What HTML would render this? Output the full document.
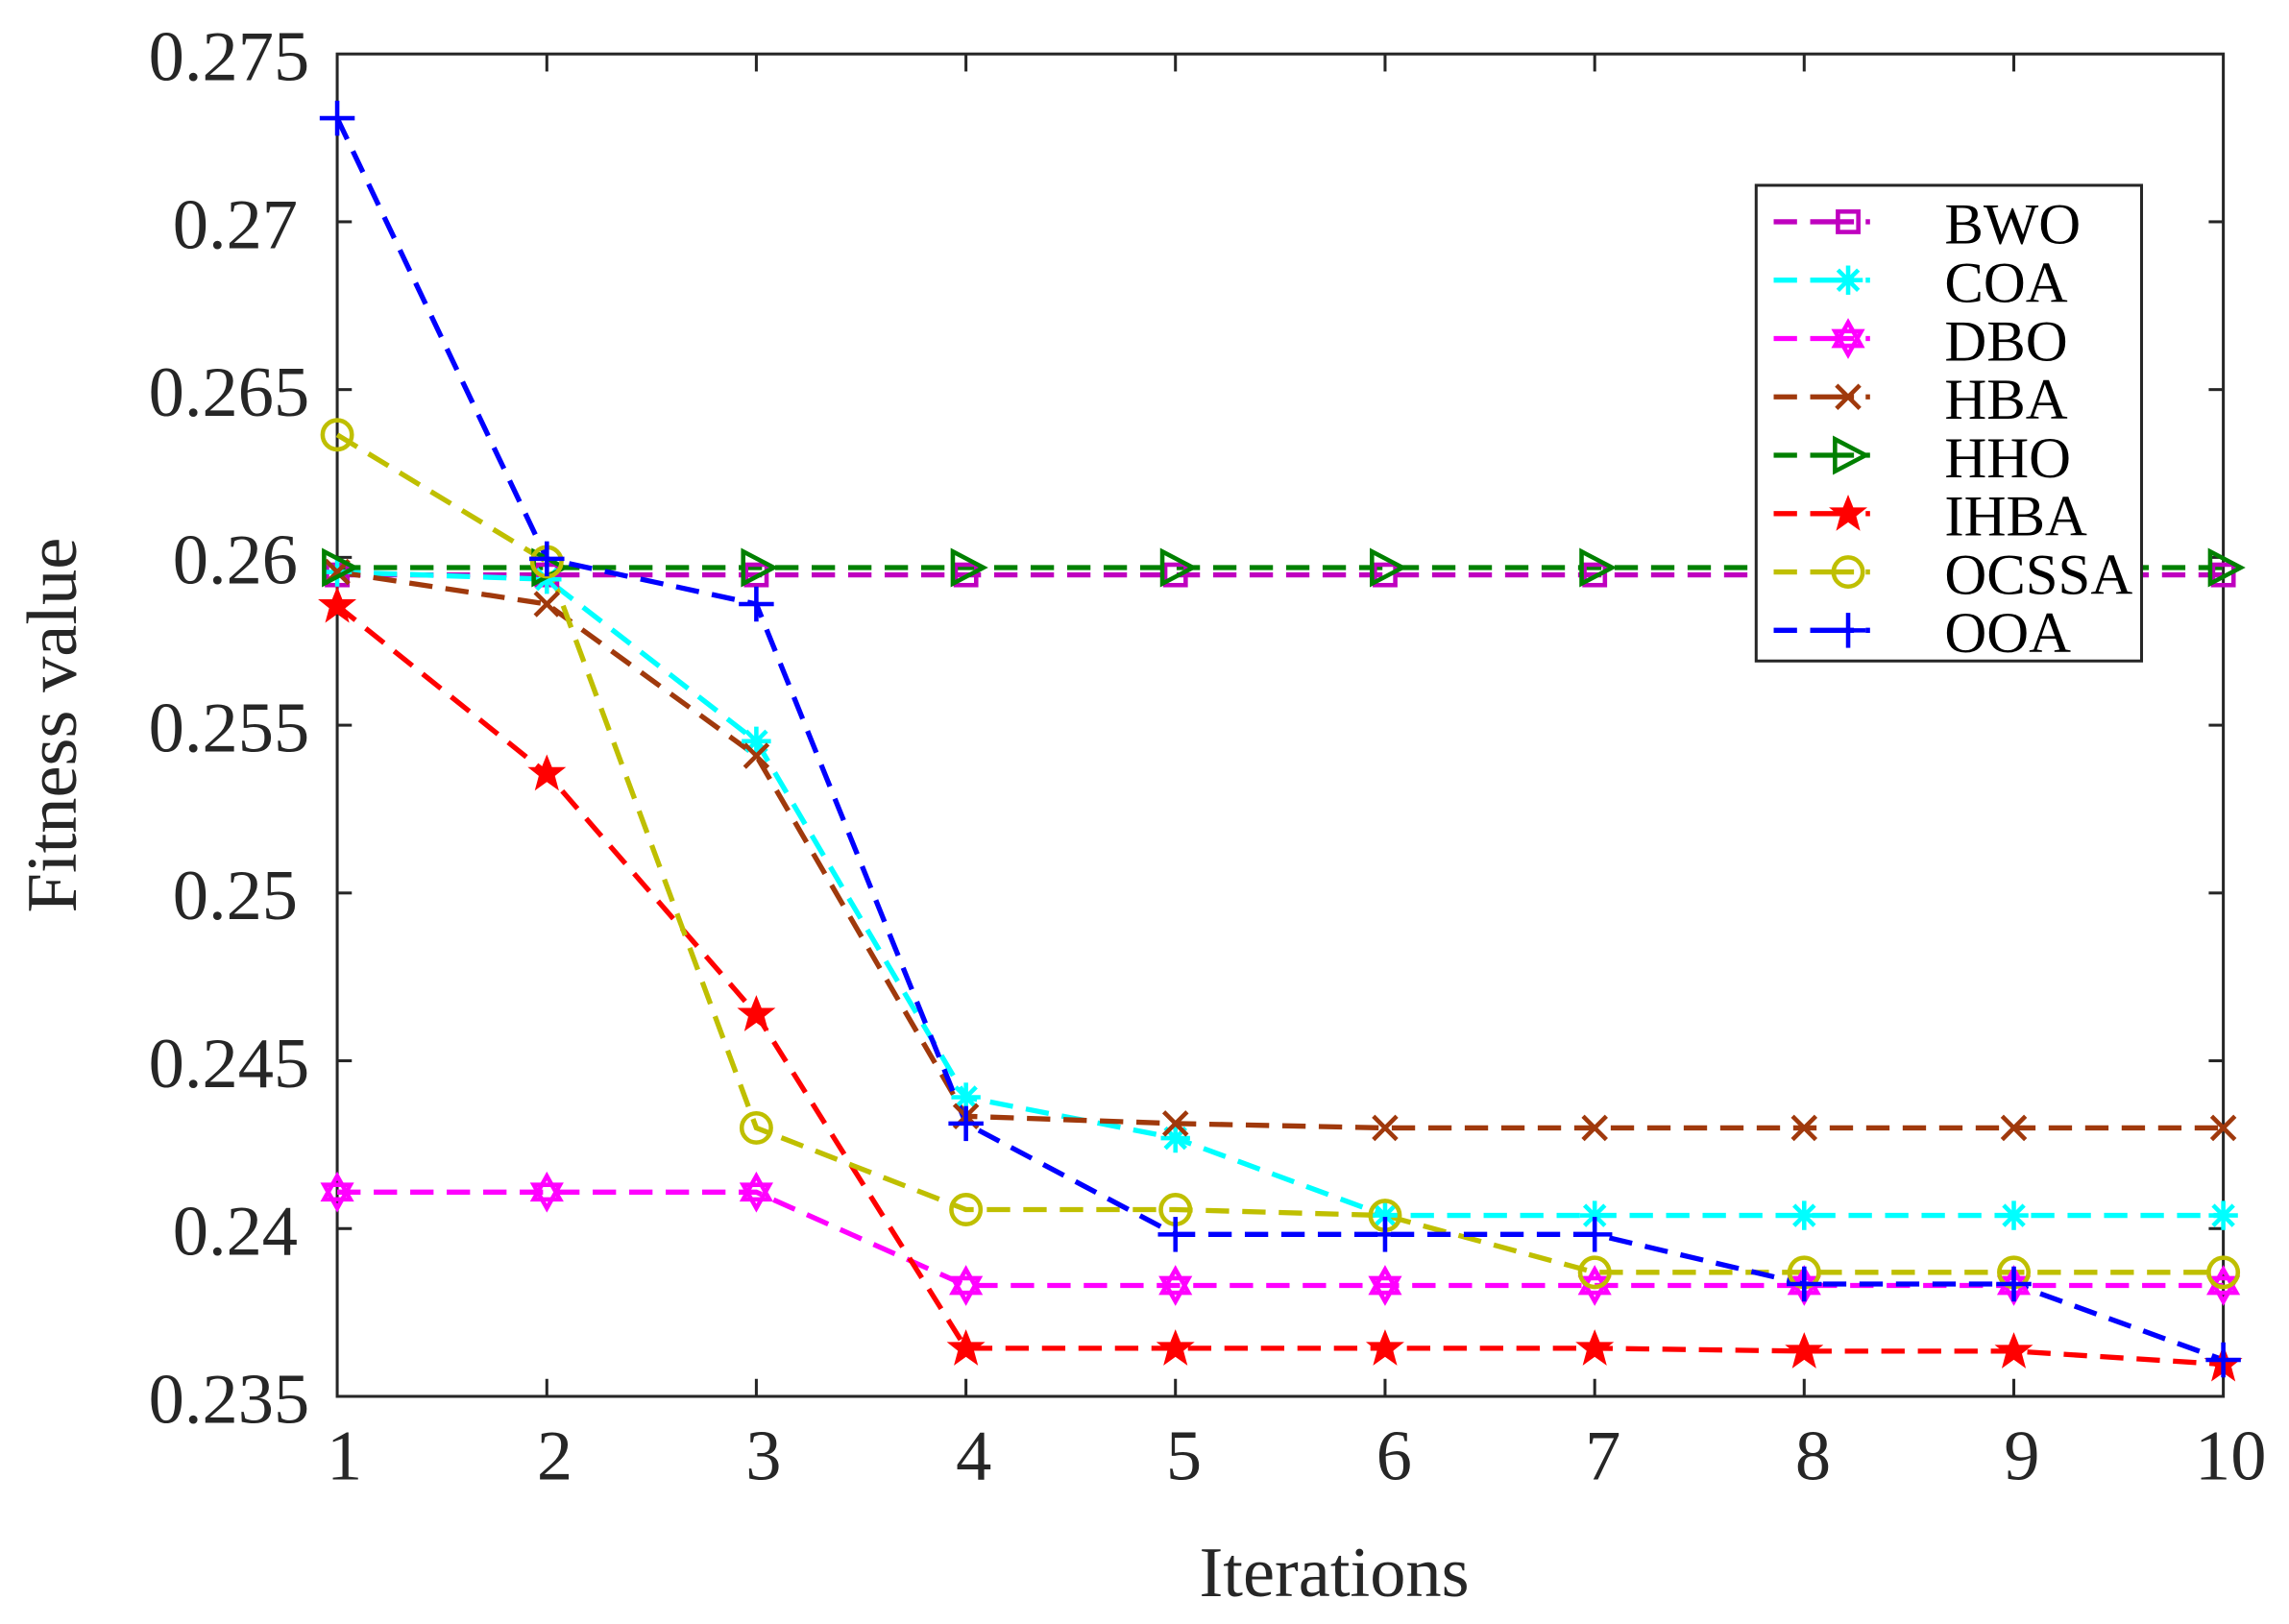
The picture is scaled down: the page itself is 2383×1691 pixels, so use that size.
<!DOCTYPE html>
<html><head><meta charset="utf-8"><style>
html,body{margin:0;padding:0;background:#fff;}
svg{display:block;}
text{font-family:"Liberation Serif",serif;fill:#262626;}
</style></head><body>
<svg width="2383" height="1691" viewBox="0 0 1568 1113" preserveAspectRatio="none" xmlns="http://www.w3.org/2000/svg">
<defs>
<g id="sq"><rect x="-7" y="-7" width="14" height="14" fill="none" stroke="currentColor" stroke-width="3"/></g>
<g id="ast" stroke="currentColor" stroke-width="3"><line x1="-10" y1="0" x2="10" y2="0"/><line x1="0" y1="-10" x2="0" y2="10"/><line x1="-7" y1="-7" x2="7" y2="7"/><line x1="-7" y1="7" x2="7" y2="-7"/></g>
<g id="hex" fill="none" stroke="currentColor" stroke-width="3"><polygon points="0,-11 9,5 -9,5"/><polygon points="0,11 9,-5 -9,-5"/></g>
<g id="xx" stroke="currentColor" stroke-width="3"><line x1="-8" y1="-8" x2="8" y2="8"/><line x1="-8" y1="8" x2="8" y2="-8"/></g>
<g id="tri"><polygon points="-9,-11 12,0 -9,11" fill="none" stroke="currentColor" stroke-width="3"/></g>
<g id="star"><polygon points="0,-11 3,-3.5 11,-3.5 4.7,1.5 7,10 0,5 -7,10 -4.7,1.5 -11,-3.5 -3,-3.5" fill="currentColor" stroke="currentColor" stroke-width="1.5"/></g>
<g id="cir"><circle r="10" fill="none" stroke="currentColor" stroke-width="3"/></g>
<g id="pl" stroke="currentColor" stroke-width="3"><line x1="-12" y1="0" x2="12" y2="0"/><line x1="0" y1="-12" x2="0" y2="12"/></g>
</defs>

<rect x="231" y="37" width="1292" height="920" fill="none" stroke="#262626" stroke-width="2"/>
<g stroke="#262626" stroke-width="2">
<line x1="231" y1="152" x2="241" y2="152"/><line x1="1523" y1="152" x2="1513" y2="152"/>
<line x1="231" y1="267" x2="241" y2="267"/><line x1="1523" y1="267" x2="1513" y2="267"/>
<line x1="231" y1="382" x2="241" y2="382"/><line x1="1523" y1="382" x2="1513" y2="382"/>
<line x1="231" y1="497" x2="241" y2="497"/><line x1="1523" y1="497" x2="1513" y2="497"/>
<line x1="231" y1="612" x2="241" y2="612"/><line x1="1523" y1="612" x2="1513" y2="612"/>
<line x1="231" y1="727" x2="241" y2="727"/><line x1="1523" y1="727" x2="1513" y2="727"/>
<line x1="231" y1="842" x2="241" y2="842"/><line x1="1523" y1="842" x2="1513" y2="842"/>
<line x1="374.6" y1="957" x2="374.6" y2="945"/><line x1="374.6" y1="37" x2="374.6" y2="49"/>
<line x1="518.1" y1="957" x2="518.1" y2="945"/><line x1="518.1" y1="37" x2="518.1" y2="49"/>
<line x1="661.7" y1="957" x2="661.7" y2="945"/><line x1="661.7" y1="37" x2="661.7" y2="49"/>
<line x1="805.2" y1="957" x2="805.2" y2="945"/><line x1="805.2" y1="37" x2="805.2" y2="49"/>
<line x1="948.8" y1="957" x2="948.8" y2="945"/><line x1="948.8" y1="37" x2="948.8" y2="49"/>
<line x1="1092.4" y1="957" x2="1092.4" y2="945"/><line x1="1092.4" y1="37" x2="1092.4" y2="49"/>
<line x1="1235.9" y1="957" x2="1235.9" y2="945"/><line x1="1235.9" y1="37" x2="1235.9" y2="49"/>
<line x1="1379.5" y1="957" x2="1379.5" y2="945"/><line x1="1379.5" y1="37" x2="1379.5" y2="49"/>
</g>
<g font-size="49" text-anchor="end">
<text x="212" y="55">0.275</text>
<text x="204" y="170">0.27</text>
<text x="212" y="285">0.265</text>
<text x="204" y="400">0.26</text>
<text x="212" y="515">0.255</text>
<text x="204" y="630">0.25</text>
<text x="212" y="745">0.245</text>
<text x="204" y="860">0.24</text>
<text x="212" y="975">0.235</text>
</g>
<g font-size="49" text-anchor="middle">
<text x="236" y="1014">1</text><text x="380" y="1014">2</text><text x="523" y="1014">3</text>
<text x="667" y="1014">4</text><text x="811" y="1014">5</text><text x="955" y="1014">6</text>
<text x="1098" y="1014">7</text><text x="1242" y="1014">8</text><text x="1385" y="1014">9</text>
<text x="1528" y="1014">10</text>
<text x="914" y="1094">Iterations</text>
<text transform="translate(52,497) rotate(-90)">Fitness value</text>
</g>

<g fill="none" stroke-width="3.5" stroke-dasharray="16,9">
<polyline stroke="#bf00bf" points="231,394 374.6,394 518.1,394 661.7,394 805.2,394 948.8,394 1092.4,394 1235.9,394 1379.5,394 1523,394"/>
<polyline stroke="#00ffff" points="231,392 374.6,397 518.1,508 661.7,752 805.2,780 948.8,833 1092.4,833 1235.9,833 1379.5,833 1523,833"/>
<polyline stroke="#ff00ff" points="231,817 374.6,817 518.1,817 661.7,881 805.2,881 948.8,881 1092.4,881 1235.9,881 1379.5,881 1523,881"/>
<polyline stroke="#a0390c" points="231,392 374.6,414 518.1,518 661.7,765 805.2,770 948.8,773 1092.4,773 1235.9,773 1379.5,773 1523,773"/>
<polyline stroke="#008000" points="231,389 374.6,389 518.1,389 661.7,389 805.2,389 948.8,389 1092.4,389 1235.9,389 1379.5,389 1523,389"/>
<polyline stroke="#ff0000" points="231,415 374.6,530 518.1,695 661.7,924 805.2,924 948.8,924 1092.4,924 1235.9,926 1379.5,926 1523,935"/>
<polyline stroke="#bfbf00" points="231,298 374.6,385 518.1,773 661.7,829 805.2,829 948.8,833 1092.4,872 1235.9,872 1379.5,872 1523,872"/>
<polyline stroke="#0000ff" points="231,81 374.6,383 518.1,414 661.7,770 805.2,846 948.8,846 1092.4,846 1235.9,880 1379.5,880 1523,932"/>
</g>

<g color="#bf00bf"><use href="#sq" x="231" y="394"/><use href="#sq" x="374.6" y="394"/><use href="#sq" x="518.1" y="394"/><use href="#sq" x="661.7" y="394"/><use href="#sq" x="805.2" y="394"/><use href="#sq" x="948.8" y="394"/><use href="#sq" x="1092.4" y="394"/><use href="#sq" x="1235.9" y="394"/><use href="#sq" x="1379.5" y="394"/><use href="#sq" x="1523" y="394"/></g>
<g color="#00ffff"><use href="#ast" x="231" y="392"/><use href="#ast" x="374.6" y="397"/><use href="#ast" x="518.1" y="508"/><use href="#ast" x="661.7" y="752"/><use href="#ast" x="805.2" y="780"/><use href="#ast" x="948.8" y="833"/><use href="#ast" x="1092.4" y="833"/><use href="#ast" x="1235.9" y="833"/><use href="#ast" x="1379.5" y="833"/><use href="#ast" x="1523" y="833"/></g>
<g color="#ff00ff"><use href="#hex" x="231" y="817"/><use href="#hex" x="374.6" y="817"/><use href="#hex" x="518.1" y="817"/><use href="#hex" x="661.7" y="881"/><use href="#hex" x="805.2" y="881"/><use href="#hex" x="948.8" y="881"/><use href="#hex" x="1092.4" y="881"/><use href="#hex" x="1235.9" y="881"/><use href="#hex" x="1379.5" y="881"/><use href="#hex" x="1523" y="881"/></g>
<g color="#a0390c"><use href="#xx" x="231" y="392"/><use href="#xx" x="374.6" y="414"/><use href="#xx" x="518.1" y="518"/><use href="#xx" x="661.7" y="765"/><use href="#xx" x="805.2" y="770"/><use href="#xx" x="948.8" y="773"/><use href="#xx" x="1092.4" y="773"/><use href="#xx" x="1235.9" y="773"/><use href="#xx" x="1379.5" y="773"/><use href="#xx" x="1523" y="773"/></g>
<g color="#008000"><use href="#tri" x="231" y="389"/><use href="#tri" x="374.6" y="389"/><use href="#tri" x="518.1" y="389"/><use href="#tri" x="661.7" y="389"/><use href="#tri" x="805.2" y="389"/><use href="#tri" x="948.8" y="389"/><use href="#tri" x="1092.4" y="389"/><use href="#tri" x="1235.9" y="389"/><use href="#tri" x="1379.5" y="389"/><use href="#tri" x="1523" y="389"/></g>
<g color="#ff0000"><use href="#star" x="231" y="415"/><use href="#star" x="374.6" y="530"/><use href="#star" x="518.1" y="695"/><use href="#star" x="661.7" y="924"/><use href="#star" x="805.2" y="924"/><use href="#star" x="948.8" y="924"/><use href="#star" x="1092.4" y="924"/><use href="#star" x="1235.9" y="926"/><use href="#star" x="1379.5" y="926"/><use href="#star" x="1523" y="935"/></g>
<g color="#bfbf00"><use href="#cir" x="231" y="298"/><use href="#cir" x="374.6" y="385"/><use href="#cir" x="518.1" y="773"/><use href="#cir" x="661.7" y="829"/><use href="#cir" x="805.2" y="829"/><use href="#cir" x="948.8" y="833"/><use href="#cir" x="1092.4" y="872"/><use href="#cir" x="1235.9" y="872"/><use href="#cir" x="1379.5" y="872"/><use href="#cir" x="1523" y="872"/></g>
<g color="#0000ff"><use href="#pl" x="231" y="81"/><use href="#pl" x="374.6" y="383"/><use href="#pl" x="518.1" y="414"/><use href="#pl" x="661.7" y="770"/><use href="#pl" x="805.2" y="846"/><use href="#pl" x="948.8" y="846"/><use href="#pl" x="1092.4" y="846"/><use href="#pl" x="1235.9" y="880"/><use href="#pl" x="1379.5" y="880"/><use href="#pl" x="1523" y="932"/></g>

<rect x="1203" y="127" width="264" height="326" fill="#fff" stroke="#262626" stroke-width="2"/>
<g stroke-width="3.5" stroke-dasharray="16,9,30,8,3,100">
<line x1="1215" y1="152" x2="1305" y2="152" stroke="#bf00bf"/>
<line x1="1215" y1="192" x2="1305" y2="192" stroke="#00ffff"/>
<line x1="1215" y1="232" x2="1305" y2="232" stroke="#ff00ff"/>
<line x1="1215" y1="272" x2="1305" y2="272" stroke="#a0390c"/>
<line x1="1215" y1="312" x2="1305" y2="312" stroke="#008000"/>
<line x1="1215" y1="352" x2="1305" y2="352" stroke="#ff0000"/>
<line x1="1215" y1="392" x2="1305" y2="392" stroke="#bfbf00"/>
<line x1="1215" y1="432" x2="1305" y2="432" stroke="#0000ff"/>
</g>
<use href="#sq" x="1266" y="152" color="#bf00bf"/>
<use href="#ast" x="1266" y="192" color="#00ffff"/>
<use href="#hex" x="1266" y="232" color="#ff00ff"/>
<use href="#xx" x="1266" y="272" color="#a0390c"/>
<use href="#tri" x="1266" y="312" color="#008000"/>
<use href="#star" x="1266" y="352" color="#ff0000"/>
<use href="#cir" x="1266" y="392" color="#bfbf00"/>
<use href="#pl" x="1266" y="432" color="#0000ff"/>
<g font-size="40">
<text x="1332" y="167" style="fill:#000">BWO</text>
<text x="1332" y="207" style="fill:#000">COA</text>
<text x="1332" y="247" style="fill:#000">DBO</text>
<text x="1332" y="287" style="fill:#000">HBA</text>
<text x="1332" y="327" style="fill:#000">HHO</text>
<text x="1332" y="367" style="fill:#000">IHBA</text>
<text x="1332" y="407" style="fill:#000">OCSSA</text>
<text x="1332" y="447" style="fill:#000">OOA</text>
</g>
</svg>
</body></html>
